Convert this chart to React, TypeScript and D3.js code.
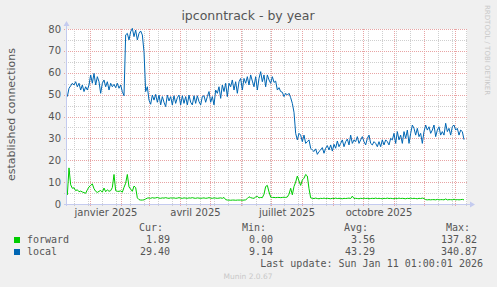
import React from 'react';
import * as d3 from 'd3';

// local (blue) — one sample every 5/3 day from 9 Dec 2024
const LOCAL = [
  49.1, 52.9, 54.0, 55.2, 54.4, 55.9, 53.6, 55.2, 52.1, 54.4,
  51.4, 53.6, 52.1, 54.4, 59.0, 55.2, 59.7, 54.4, 58.2, 55.9,
  50.6, 55.2, 56.7, 53.6, 55.9, 52.1, 55.2, 53.6, 54.7, 53.2,
  55.2, 52.9, 54.4, 51.4, 49.5, 77.3, 78.0, 75.0, 78.8, 80.3,
  76.5, 79.5, 75.0, 78.0, 79.1, 77.3, 69.6, 51.4, 53.6, 47.5,
  45.6, 49.8, 47.5, 50.1, 46.5, 49.8, 45.3, 49.1, 46.5, 44.5,
  49.8, 47.1, 49.1, 45.3, 49.5, 46.0, 48.6, 49.8, 45.3, 49.5,
  46.0, 49.1, 45.3, 49.8, 46.5, 45.3, 49.5, 46.0, 49.5, 46.8,
  45.3, 49.1, 49.5, 46.5, 49.1, 51.4, 46.5, 49.1, 45.3, 52.1,
  50.6, 53.6, 48.3, 54.4, 51.4, 55.2, 49.1, 55.2, 53.6, 56.7,
  52.1, 55.9, 50.6, 55.9, 57.4, 52.1, 57.4, 55.2, 58.2, 54.4,
  59.0, 56.2, 53.6, 58.2, 52.1, 57.4, 60.5, 55.9, 59.0, 53.6,
  59.0, 56.7, 55.2, 58.2,
  55.6, 56.2, 52.1, 53.2, 51.4, 51.1, 49.1, 50.6, 49.8, 50.6,
  48.6, 46.0, 41.9, 32.3, 29.3, 32.3, 31.5, 28.5, 31.5, 27.7,
  28.5, 29.3, 25.5, 24.7, 24.0, 25.2, 22.7, 24.0, 24.7, 25.8,
  23.2, 25.5, 26.7, 24.7, 27.0, 24.2, 27.3, 25.5, 28.8, 26.2,
  27.7, 29.3, 26.2, 28.5, 29.7, 27.0, 31.5, 27.7, 29.3, 28.5,
  30.8, 27.7, 29.3, 30.8, 28.5, 27.0, 30.0, 31.5, 27.7, 27.0,
  28.5, 27.7, 26.2, 28.5, 26.2, 29.3, 27.0, 29.3, 28.5, 27.0,
  30.0, 29.3, 32.3, 27.7, 33.1, 29.3, 31.5, 27.7, 33.1, 30.0,
  33.8, 27.7, 32.3, 36.1, 34.6, 31.5, 34.6, 30.8, 32.3, 27.7,
  33.1, 36.1, 33.8, 35.3, 32.3, 33.8, 36.1, 30.8, 33.8, 35.3,
  31.5, 33.1, 31.5, 36.9, 33.1, 34.6, 31.5, 35.3, 36.1, 33.8,
  34.6, 31.5, 33.8, 33.1, 29.4,
];

// forward (green) — same sampling
const FORWARD = [
  4.1, 16.5, 8.8, 7.2, 7.4, 6.1, 6.5, 5.6, 5.9, 5.5,
  5.2, 4.9, 6.5, 7.8, 8.5, 9.2, 7.0, 5.8, 5.3, 5.8,
  6.2, 5.4, 7.3, 5.6, 6.5, 5.8, 6.1, 7.5, 13.5, 6.1,
  5.8, 5.8, 6.0, 5.4, 7.6, 9.5, 13.5, 7.8, 6.8, 5.8,
  8.2, 7.5, 2.8, 2.0, 1.8, 1.8, 1.9, 2.3,
  2.7, 2.8, 2.6, 2.9, 2.7, 2.8, 3.0, 2.7, 2.6, 2.8,
  2.7, 2.9, 2.7, 2.6, 2.8, 2.7, 2.8, 2.6, 2.7, 2.9,
  2.7, 2.6, 2.8, 2.7, 2.6, 2.8, 2.7, 2.9, 2.7, 2.6,
  2.8, 2.7, 2.6, 2.7, 2.8, 2.6, 2.7, 2.9, 2.7, 2.6,
  2.8, 2.7, 2.6, 2.7, 2.8, 2.6,
  3.0,
  2.0, 1.8, 1.8, 1.7, 1.8, 1.8, 1.7, 1.8, 1.8, 1.8, 1.7, 1.8, 1.9,
  2.5, 3.3,
  2.9, 2.7, 2.6, 3.2, 3.5, 2.8, 3.0, 2.9, 4.5, 8.0, 8.5, 5.5, 3.2, 3.0,
  3.0, 2.9, 3.0, 3.0, 2.9, 3.0, 3.1, 3.0,
  3.2, 4.5, 7.2, 4.2, 8.0, 10.0, 12.8, 10.5, 8.5, 11.0, 11.8, 13.5, 12.8, 7.0, 2.8,
  2.6, 2.5, 2.7, 2.5, 2.4, 2.6, 2.5, 2.7, 2.5, 2.6,
  2.5, 2.4, 2.6, 2.5, 2.7, 2.5, 2.6, 2.5, 2.4, 2.6,
  2.5, 2.6, 2.7, 2.5, 3.6, 2.5, 2.6, 2.5, 2.4, 2.6,
  2.5, 2.7, 2.5, 2.6, 2.4, 2.5, 2.6, 2.5, 2.7, 2.5,
  2.6, 2.5, 2.4, 2.6, 2.5, 2.7, 2.5, 2.6, 2.5, 2.4,
  2.6, 2.5, 2.7, 2.5, 2.6, 2.5, 2.4, 2.6, 2.5, 2.7,
  2.5, 2.6, 2.5, 2.4, 2.6, 2.5, 2.7, 2.5,
  2.0, 1.9, 2.0, 1.9, 2.0, 2.0, 1.9, 2.1, 1.9, 2.0,
  2.0, 1.9, 2.3, 1.9, 2.0, 2.0, 1.9, 2.2, 1.9, 2.0,
  1.9, 2.0, 2.1, 1.9,
];

const Y_TICKS = [0, 10, 20, 30, 40, 50, 60, 70, 80];
const Y_MINOR = [5, 15, 25, 35, 45, 55, 65, 75];
const MONTH_LABELS = ['janvier 2025', 'avril 2025', 'juillet 2025', 'octobre 2025'];
const LEGEND_NAMES = ['forward', 'local'];
const LEGEND_COLORS = ['#00cc00', '#0066b3'];
const CUR = ['1.89', '29.40'];
const MIN = ['0.00', '9.14'];
const AVG = ['3.56', '43.29'];
const MAX = ['137.82', '340.87'];

const DAY = 86400000;
const START = Date.UTC(2024, 11, 9);
const END = START + 400 * DAY;

export default function App() {
  const W = 497, H = 287;
  const L = 67, R = 467, T = 29, B = 204;
  const x = d3.scaleUtc().domain([new Date(START), new Date(END)]).range([L, R]);
  const y = d3.scaleLinear().domain([0, 80]).range([B, T]);
  const times = LOCAL.map((_, i) => new Date(START + (1 / 3 + (i * 5) / 3) * DAY));

  const line = d3.line<number>()
    .x((_, i) => x(times[i]))
    .y((v) => y(v));

  const months = d3.utcMonth.range(new Date(START), new Date(END));
  const minors = d3.utcDay
    .range(new Date(Date.UTC(2024, 11, 16)), new Date(END), 14);
  const labelMonths = [0, 3, 6, 9].map((m) => new Date(Date.UTC(2025, m, 1)));

  const px = (v: number) => Math.round(v) + 0.5;
  const major = '#e8a4a4';
  const minor = '#cfcfcf';
  const axisCol = '#c4cbef';
  const textCol = '#555555';
  const sans = 'DejaVu Sans, sans-serif';
  const mono = 'DejaVu Sans Mono, monospace';

  return (
    <svg width={W} height={H} style={{ position: 'absolute', left: 0, top: 0 }}>
      <rect x={0} y={0} width={W} height={H} fill="#f0f0f0" />
      <rect x={L} y={T} width={R - L} height={B - T} fill="#ffffff" />
      <text x={248} y={20} textAnchor="middle" fontFamily={sans} fontSize={12.5} fill={textCol}>
        ipconntrack - by year
      </text>
      <text transform="translate(485,5) rotate(90)" fontFamily={sans} fontSize={7} fill="#c8c8c8">
        RRDTOOL / TOBI OETIKER
      </text>
      <g>
        {Y_MINOR.map((v) => (
          <line key={'ym' + v} x1={L - 3} x2={R} y1={px(y(v))} y2={px(y(v))} stroke={minor} strokeDasharray="1 1" />
        ))}
        {minors.map((d, i) => (
          <line key={'xm' + i} x1={px(x(d))} x2={px(x(d))} y1={T} y2={B + 3} stroke={minor} strokeDasharray="1 1" />
        ))}
        {Y_TICKS.filter((v) => v > 0).map((v) => (
          <line key={'yM' + v} x1={L - 3} x2={R} y1={px(y(v))} y2={px(y(v))} stroke={major} strokeDasharray="1 1" />
        ))}
        {months.map((d, i) => (
          <line key={'xM' + i} x1={px(x(d))} x2={px(x(d))} y1={T} y2={B + 3} stroke={major} strokeDasharray="1 1" />
        ))}
      </g>
      {Y_TICKS.map((v) => (
        <text key={'yt' + v} x={61} y={y(v)} dy="0.35em" textAnchor="end" fontFamily={sans} fontSize={10} fill={textCol}>
          {v}
        </text>
      ))}
      {labelMonths.map((d, i) => {
        const nx = d3.utcMonth.offset(d, 1);
        return (
          <text key={'xl' + i} x={(x(d) + x(nx)) / 2 + 0.5} y={216} textAnchor="middle" fontFamily={sans} fontSize={10} fill={textCol}>
            {MONTH_LABELS[i]}
          </text>
        );
      })}
      <text transform={`translate(15,${(T + B) / 2 - 2}) rotate(-90)`} textAnchor="middle" fontFamily={sans} fontSize={11} fill={textCol}>
        established connections
      </text>
      <path d={line(FORWARD) || ''} fill="none" stroke={LEGEND_COLORS[0]} strokeWidth={1} />
      <path d={line(LOCAL) || ''} fill="none" stroke={LEGEND_COLORS[1]} strokeWidth={1} />
      <g shapeRendering="crispEdges">
        <line x1={L - 0.5} x2={L - 0.5} y1={B + 2} y2={T - 5} stroke={axisCol} />
        <line x1={L - 3} x2={R + 4} y1={B + 0.5} y2={B + 0.5} stroke={axisCol} />
      </g>
      <path d={`M${L - 3.5},${T - 3} L${L - 0.5},${T - 8} L${L + 2.5},${T - 3} Z`} fill={axisCol} />
      <path d={`M${R + 3},${B - 2.5} L${R + 8},${B + 0.5} L${R + 3},${B + 3.5} Z`} fill={axisCol} />
      <g fontFamily={mono} fontSize={10} fill={textCol}>
        <text x={163} y={231} textAnchor="end">Cur:</text>
        <text x={266} y={231} textAnchor="end">Min:</text>
        <text x={368} y={231} textAnchor="end">Avg:</text>
        <text x={470} y={231} textAnchor="end">Max:</text>
        {LEGEND_NAMES.map((n, i) => {
          const yy = 243 + i * 12;
          return (
            <g key={n}>
              <rect x={14} y={yy - 6} width={6} height={6} fill={LEGEND_COLORS[i]} />
              <text x={27} y={yy}>{n}</text>
              <text x={170} y={yy} textAnchor="end">{CUR[i]}</text>
              <text x={273} y={yy} textAnchor="end">{MIN[i]}</text>
              <text x={375} y={yy} textAnchor="end">{AVG[i]}</text>
              <text x={477} y={yy} textAnchor="end">{MAX[i]}</text>
            </g>
          );
        })}
        <text x={483} y={267} textAnchor="end">Last update: Sun Jan 11 01:00:01 2026</text>
      </g>
      <text x={248} y={279} textAnchor="middle" fontFamily={sans} fontSize={7.5} fill="#c8c8c8">
        Munin 2.0.67
      </text>
    </svg>
  );
}
